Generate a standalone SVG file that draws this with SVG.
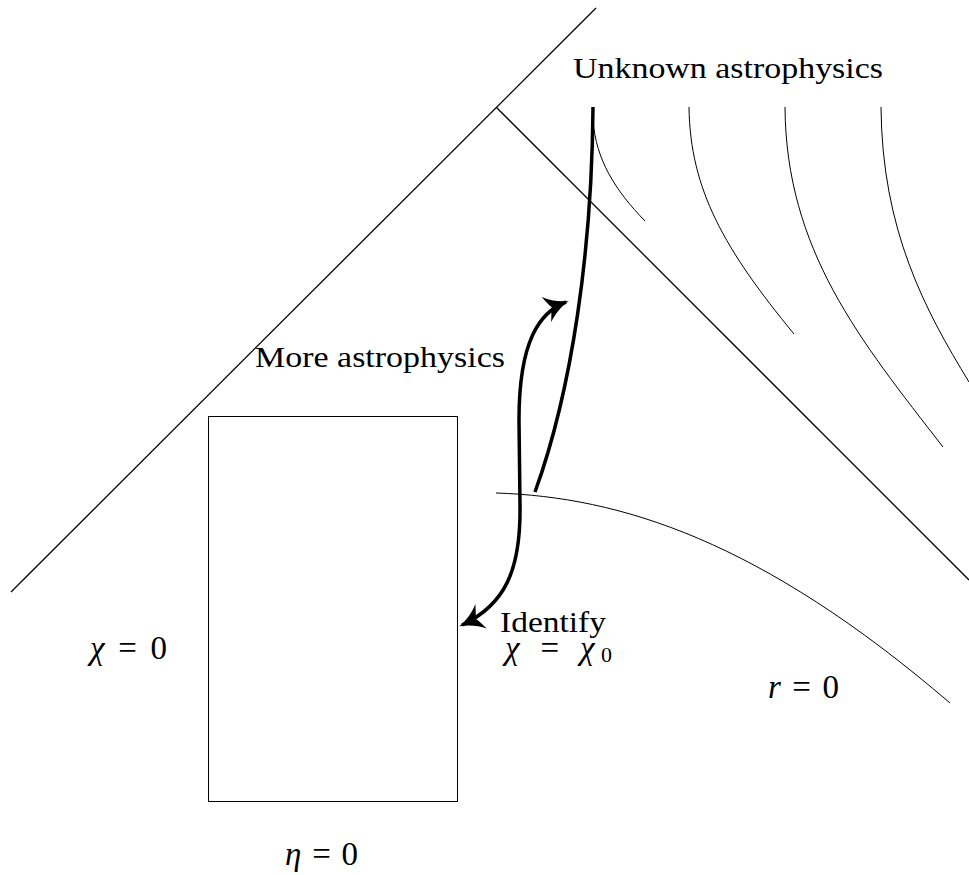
<svg xmlns="http://www.w3.org/2000/svg" width="969" height="875" viewBox="0 0 969 875">
<style>
.thin{fill:none;stroke:#000;stroke-width:1}
.edge{fill:none;stroke:#000;stroke-width:1.3}
.thick{fill:none;stroke:#000;stroke-width:3.5}
.t{font-family:"Liberation Serif","DejaVu Serif",serif;font-size:29px;fill:#000}
.m{font-family:"Liberation Serif","DejaVu Serif",serif;font-size:33px;fill:#000}
.i{font-style:italic}
</style>
<defs>
<marker id="ah" markerUnits="userSpaceOnUse" markerWidth="30" markerHeight="30" refX="0" refY="0" viewBox="-16 -10 20 20" orient="auto-start-reverse" overflow="visible">
<path d="M2,0 C-4,-1.5 -10,-5 -14,-9 C-12,-4 -11,-1.5 -10,0 C-11,1.5 -12,4 -14,9 C-10,5 -4,1.5 2,0 Z" fill="#000"/>
</marker>
</defs>
<g id="boundaries">
<line class="edge" x1="11" y1="592" x2="596" y2="8"/>
<line class="edge" x1="496" y1="107" x2="969" y2="580"/>
</g>
<g id="box">
<rect class="thin" x="208.5" y="416.5" width="249" height="385"/>
</g>
<g id="worldlines">
<path class="thick" d="M593,107 C592,250 572,390 535,492"/>
<path class="thin" d="M593,120 C596,160 615,190 645,221"/>
<path class="thin" d="M689,107 C690,190 725,250 794,334"/>
<path class="thin" d="M785,107 C786,250 860,340 943,447"/>
<path class="thin" d="M881,107 C882,230 925,310 969,382"/>
<path class="thin" d="M496,493 C620,497 760,540 950,703"/>
</g>
<g id="connectors">
<path class="thick" d="M462,625 C505,605 521,570 520,505 L519,420 C519,340 540,312 566,302" marker-start="url(#ah)" marker-end="url(#ah)"/>
</g>
<g id="labels">
<text class="t" x="573" y="78" textLength="310" lengthAdjust="spacingAndGlyphs">Unknown astrophysics</text>
<text class="t" x="255" y="367" textLength="250" lengthAdjust="spacingAndGlyphs">More astrophysics</text>
<text class="t" x="500" y="632" textLength="106" lengthAdjust="spacingAndGlyphs">Identify</text>
<text class="m" x="505" y="659" textLength="107" lengthAdjust="spacing"><tspan class="i">χ</tspan> = <tspan class="i">χ</tspan><tspan font-size="22" dy="3">0</tspan></text>
<text class="m" x="90" y="659" textLength="77" lengthAdjust="spacing"><tspan class="i">χ</tspan> = 0</text>
<text class="m" x="768" y="698" textLength="71" lengthAdjust="spacing"><tspan class="i">r</tspan> = 0</text>
<text class="m" x="285" y="865" textLength="73" lengthAdjust="spacing"><tspan class="i">η</tspan> = 0</text>
</g>
</svg>
